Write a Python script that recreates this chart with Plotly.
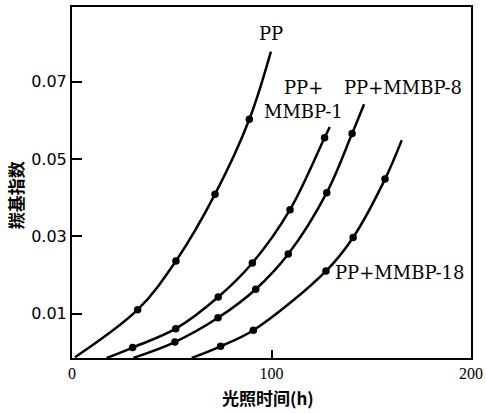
import plotly.graph_objects as go

# Curves: first and last points are the curve ends (no marker); inner points are measured (marked)
pp_x = [1.5, 32.9, 52.1, 71.7, 88.9, 99.7]
pp_y = [-0.0013, 0.0110, 0.0236, 0.0409, 0.0603, 0.0778]

m1_x = [17.4, 30.4, 52.0, 73.3, 90.4, 109.3, 126.6, 129.2]
m1_y = [-0.0015, 0.0012, 0.0061, 0.0143, 0.0231, 0.0369, 0.0555, 0.0583]

m8_x = [30.8, 51.6, 73.2, 92.1, 108.4, 127.7, 140.4, 146.4]
m8_y = [-0.00145, 0.00264, 0.0089, 0.0163, 0.0254, 0.0413, 0.0566, 0.0642]

m18_x = [60.0, 74.5, 90.9, 127.3, 140.9, 156.9, 165.3]
m18_y = [-0.0015, 0.00153, 0.00567, 0.0210, 0.0297, 0.0448, 0.0549]

x_ticks = [0, 100, 200]
y_ticks = [0.01, 0.03, 0.05, 0.07]
y_ticktext = ["0.01", "0.03", "0.05", "0.07"]

series = [(pp_x, pp_y), (m1_x, m1_y), (m8_x, m8_y), (m18_x, m18_y)]

fig = go.Figure()
for xs, ys in series:
    fig.add_trace(go.Scatter(x=xs, y=ys, mode="lines",
                             line=dict(color="black", width=2.5, shape="spline", smoothing=1.0),
                             showlegend=False, hoverinfo="skip"))
    fig.add_trace(go.Scatter(x=xs[1:-1], y=ys[1:-1], mode="markers",
                             marker=dict(color="black", size=7.5),
                             showlegend=False))

lab_font = dict(family="DejaVu Serif", size=18, color="black")
labels = [
    ("PP", 99.7, 0.0824, "center"),
    ("PP+", 105.1, 0.0686, "left"),
    ("MMBP-1", 95.2, 0.0624, "left"),
    ("PP+MMBP-8", 135.2, 0.0686, "left"),
    ("PP+MMBP-18", 131.0, 0.0207, "left"),
]
for t, x, y, xa in labels:
    fig.add_annotation(x=x, y=y, text=t, showarrow=False, xanchor=xa, yanchor="middle",
                       font=lab_font)

fig.add_annotation(xref="paper", yref="paper", x=0.49, y=0, yshift=-39, text="<b>光照时间(h)</b>",
                   showarrow=False, xanchor="center", yanchor="middle",
                   font=dict(family="Noto Sans CJK SC", size=17, color="black"))
fig.add_annotation(xref="paper", yref="paper", x=0, xshift=-57, y=0.464, text="<b>羰基指数</b>",
                   textangle=-90, showarrow=False, xanchor="center", yanchor="middle",
                   font=dict(family="Noto Sans CJK SC", size=17, color="black"))

fig.update_layout(
    width=486, height=414,
    margin=dict(l=72, r=15, t=7, b=56),
    plot_bgcolor="white", paper_bgcolor="white",
    xaxis=dict(range=[0, 200], tickvals=x_ticks, ticks="inside", ticklen=8, tickwidth=1.5,
               tickcolor="black", showline=True, linewidth=2, linecolor="black", mirror=True,
               showgrid=False, zeroline=False, automargin=False,
               tickfont=dict(family="Liberation Serif", size=16, color="black")),
    yaxis=dict(range=[-0.0015, 0.08935], tickvals=y_ticks, ticktext=y_ticktext, ticks="inside",
               ticklen=10, tickwidth=1.5, tickcolor="black", showline=True, linewidth=2,
               linecolor="black", mirror=True, showgrid=False, zeroline=False, automargin=False,
               tickfont=dict(family="DejaVu Sans", size=16, color="black")),
)

fig.write_html("out.html", config={"displayModeBar": False},
               post_script="document.body.style.margin='0';")
